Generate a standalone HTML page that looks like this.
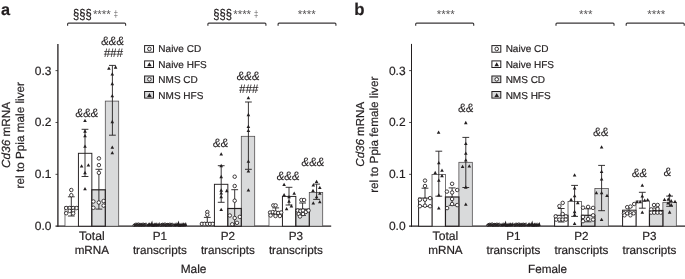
<!DOCTYPE html>
<html><head><meta charset="utf-8"><title>Cd36 mRNA</title>
<style>html,body{margin:0;padding:0;background:#fff}svg{display:block;will-change:transform}text{font-family:"Liberation Sans",sans-serif;text-rendering:geometricPrecision}.k{stroke:#231f20;stroke-width:0.2px}.ki{stroke:#231f20;stroke-width:0.1px}</style>
</head><body>
<svg width="685" height="279" viewBox="0 0 685 279"><rect width="685" height="279" fill="#fff"/>
<g font-family='"Liberation Sans", sans-serif'>
<text x="1.10" y="14.70" class="k" font-size="16.3" text-anchor="start" font-weight="bold" fill="#231f20">a</text>
<text x="354.20" y="14.60" class="k" font-size="16.8" text-anchor="start" font-weight="bold" fill="#231f20">b</text>
<path d="M57.90 43.9V226.85" stroke="#231f20" stroke-width="1.3" fill="none"/>
<path d="M55.50 226.20H331.20" stroke="#231f20" stroke-width="1.2" fill="none"/>
<text x="51.40" y="230.15" class="k" font-size="12" text-anchor="end" fill="#231f20">0.0</text>
<path d="M55.50 174.34H57.90" stroke="#231f20" stroke-width="0.8" fill="none"/>
<text x="51.40" y="178.29" class="k" font-size="12" text-anchor="end" fill="#231f20">0.1</text>
<path d="M55.50 122.48H57.90" stroke="#231f20" stroke-width="0.8" fill="none"/>
<text x="51.40" y="126.43" class="k" font-size="12" text-anchor="end" fill="#231f20">0.2</text>
<path d="M55.50 70.62H57.90" stroke="#231f20" stroke-width="0.8" fill="none"/>
<text x="51.40" y="74.57" class="k" font-size="12" text-anchor="end" fill="#231f20">0.3</text>
<text transform="translate(10.30 134.9) rotate(-90)" class="k" font-size="11.75" text-anchor="middle" fill="#231f20"><tspan font-style="italic">Cd36</tspan> mRNA</text>
<text transform="translate(24.00 135.2) rotate(-90)" class="k" font-size="11.75" text-anchor="middle" fill="#231f20">rel to Ppia male liver</text>
<text x="91.85" y="240.00" class="k" font-size="12.2" text-anchor="middle" fill="#231f20">Total</text>
<text x="91.85" y="254.00" class="k" font-size="11.7" text-anchor="middle" fill="#231f20">mRNA</text>
<text x="159.85" y="240.00" class="k" font-size="11.7" text-anchor="middle" fill="#231f20">P1</text>
<text x="159.85" y="254.00" class="k" font-size="11.7" text-anchor="middle" fill="#231f20">transcripts</text>
<text x="227.85" y="240.00" class="k" font-size="11.7" text-anchor="middle" fill="#231f20">P2</text>
<text x="227.85" y="254.00" class="k" font-size="11.7" text-anchor="middle" fill="#231f20">transcripts</text>
<text x="295.85" y="240.00" class="k" font-size="11.7" text-anchor="middle" fill="#231f20">P3</text>
<text x="295.85" y="254.00" class="k" font-size="11.7" text-anchor="middle" fill="#231f20">transcripts</text>
<text x="193.55" y="273.30" class="k" font-size="11.9" text-anchor="middle" fill="#231f20">Male</text>
<rect x="64.99" y="206.40" width="13.43" height="19.80" fill="#fff" stroke="#4a4748" stroke-width="0.75"/>
<rect x="105.28" y="101.10" width="13.43" height="125.10" fill="#d9dadb" stroke="#4a4748" stroke-width="0.75"/>
<rect x="78.42" y="153.30" width="13.43" height="72.90" fill="#fff" stroke="#231f20" stroke-width="0.95"/>
<rect x="91.85" y="189.80" width="13.43" height="36.40" fill="#d9dadb" stroke="#231f20" stroke-width="1.2"/>
<path d="M71.30 196.80V216.00M67.90 196.80H74.70M67.90 216.00H74.70" stroke="#231f20" stroke-width="0.9" fill="none"/>
<circle cx="71.30" cy="190.00" r="1.75" fill="#fff" stroke="#231f20" stroke-width="0.85"/>
<circle cx="71.30" cy="195.20" r="1.75" fill="#fff" stroke="#231f20" stroke-width="0.85"/>
<circle cx="66.20" cy="208.00" r="1.75" fill="#fff" stroke="#231f20" stroke-width="0.85"/>
<circle cx="69.70" cy="208.00" r="1.75" fill="#fff" stroke="#231f20" stroke-width="0.85"/>
<circle cx="73.20" cy="208.00" r="1.75" fill="#fff" stroke="#231f20" stroke-width="0.85"/>
<circle cx="76.60" cy="208.00" r="1.75" fill="#fff" stroke="#231f20" stroke-width="0.85"/>
<circle cx="69.70" cy="210.90" r="1.75" fill="#fff" stroke="#231f20" stroke-width="0.85"/>
<circle cx="73.20" cy="210.90" r="1.75" fill="#fff" stroke="#231f20" stroke-width="0.85"/>
<circle cx="66.20" cy="213.20" r="1.75" fill="#fff" stroke="#231f20" stroke-width="0.85"/>
<circle cx="73.20" cy="213.40" r="1.75" fill="#fff" stroke="#231f20" stroke-width="0.85"/>
<path d="M85.00 129.30V176.50M81.60 129.30H88.40M81.60 176.50H88.40" stroke="#231f20" stroke-width="0.9" fill="none"/>
<path d="M83.20 122.05L86.80 122.05L85.00 118.75Z" fill="#231f20"/>
<path d="M83.20 132.65L86.80 132.65L85.00 129.35Z" fill="#231f20"/>
<path d="M83.20 137.35L86.80 137.35L85.00 134.05Z" fill="#231f20"/>
<path d="M83.20 147.85L86.80 147.85L85.00 144.55Z" fill="#231f20"/>
<path d="M79.80 167.55L83.40 167.55L81.60 164.25Z" fill="#231f20"/>
<path d="M86.60 166.45L90.20 166.45L88.40 163.15Z" fill="#231f20"/>
<path d="M83.20 174.15L86.80 174.15L85.00 170.85Z" fill="#231f20"/>
<path d="M83.20 190.25L86.80 190.25L85.00 186.95Z" fill="#231f20"/>
<path d="M98.90 169.30V209.10M95.50 169.30H102.30M95.50 209.10H102.30" stroke="#231f20" stroke-width="0.9" fill="none"/>
<circle cx="98.90" cy="158.40" r="1.75" fill="#fff" stroke="#231f20" stroke-width="0.85"/>
<circle cx="98.90" cy="165.10" r="1.75" fill="#fff" stroke="#231f20" stroke-width="0.85"/>
<circle cx="98.90" cy="172.80" r="1.75" fill="#fff" stroke="#231f20" stroke-width="0.85"/>
<circle cx="93.40" cy="201.50" r="1.75" fill="#fff" stroke="#231f20" stroke-width="0.85"/>
<circle cx="98.80" cy="202.50" r="1.75" fill="#fff" stroke="#231f20" stroke-width="0.85"/>
<circle cx="103.60" cy="201.00" r="1.75" fill="#fff" stroke="#231f20" stroke-width="0.85"/>
<circle cx="103.60" cy="205.60" r="1.75" fill="#fff" stroke="#231f20" stroke-width="0.85"/>
<circle cx="93.40" cy="207.80" r="1.75" fill="#fff" stroke="#231f20" stroke-width="0.85"/>
<path d="M112.40 65.40V135.20M109.00 65.40H115.80M109.00 135.20H115.80" stroke="#231f20" stroke-width="0.9" fill="none"/>
<path d="M107.10 69.75L110.70 69.75L108.90 66.45Z" fill="#231f20"/>
<path d="M113.80 68.65L117.40 68.65L115.60 65.35Z" fill="#231f20"/>
<path d="M110.50 75.45L114.10 75.45L112.30 72.15Z" fill="#231f20"/>
<path d="M110.50 85.15L114.10 85.15L112.30 81.85Z" fill="#231f20"/>
<path d="M110.50 97.25L114.10 97.25L112.30 93.95Z" fill="#231f20"/>
<path d="M110.50 123.15L114.10 123.15L112.30 119.85Z" fill="#231f20"/>
<path d="M110.50 148.75L114.10 148.75L112.30 145.45Z" fill="#231f20"/>
<path d="M110.50 154.35L114.10 154.35L112.30 151.05Z" fill="#231f20"/>
<ellipse cx="134.59" cy="225.10" rx="1.75" ry="1.25" fill="#fff" fill-opacity="0.35" stroke="#231f20" stroke-width="0.85" transform="rotate(-20 134.59 225.10)"/>
<ellipse cx="135.79" cy="224.45" rx="1.75" ry="1.25" fill="#fff" fill-opacity="0.35" stroke="#231f20" stroke-width="0.85" transform="rotate(-20 135.79 224.45)"/>
<ellipse cx="137.00" cy="224.85" rx="1.75" ry="1.25" fill="#fff" fill-opacity="0.35" stroke="#231f20" stroke-width="0.85" transform="rotate(-20 137.00 224.85)"/>
<ellipse cx="138.20" cy="224.30" rx="1.75" ry="1.25" fill="#fff" fill-opacity="0.35" stroke="#231f20" stroke-width="0.85" transform="rotate(-20 138.20 224.30)"/>
<ellipse cx="139.40" cy="225.15" rx="1.75" ry="1.25" fill="#fff" fill-opacity="0.35" stroke="#231f20" stroke-width="0.85" transform="rotate(-20 139.40 225.15)"/>
<ellipse cx="140.61" cy="224.65" rx="1.75" ry="1.25" fill="#fff" fill-opacity="0.35" stroke="#231f20" stroke-width="0.85" transform="rotate(-20 140.61 224.65)"/>
<ellipse cx="141.81" cy="225.05" rx="1.75" ry="1.25" fill="#fff" fill-opacity="0.35" stroke="#231f20" stroke-width="0.85" transform="rotate(-20 141.81 225.05)"/>
<ellipse cx="143.01" cy="224.40" rx="1.75" ry="1.25" fill="#fff" fill-opacity="0.35" stroke="#231f20" stroke-width="0.85" transform="rotate(-20 143.01 224.40)"/>
<ellipse cx="144.22" cy="224.95" rx="1.75" ry="1.25" fill="#fff" fill-opacity="0.35" stroke="#231f20" stroke-width="0.85" transform="rotate(-20 144.22 224.95)"/>
<ellipse cx="145.42" cy="224.55" rx="1.75" ry="1.25" fill="#fff" fill-opacity="0.35" stroke="#231f20" stroke-width="0.85" transform="rotate(-20 145.42 224.55)"/>
<path d="M133.69 225.0H146.32" stroke="#231f20" stroke-width="1.6"/>
<path d="M146.32 226.60L149.72 226.60L148.52 222.50Z" fill="#231f20"/>
<path d="M147.52 225.95L150.92 225.95L149.72 222.35Z" fill="#231f20"/>
<path d="M148.73 226.35L152.13 226.35L150.93 222.75Z" fill="#231f20"/>
<path d="M149.93 225.80L153.33 225.80L152.13 220.40Z" fill="#231f20"/>
<path d="M151.13 226.65L154.53 226.65L153.33 223.05Z" fill="#231f20"/>
<path d="M152.34 226.15L155.74 226.15L154.54 222.55Z" fill="#231f20"/>
<path d="M153.54 226.55L156.94 226.55L155.74 222.45Z" fill="#231f20"/>
<path d="M154.74 225.90L158.14 225.90L156.94 222.30Z" fill="#231f20"/>
<path d="M155.95 226.45L159.35 226.45L158.15 222.85Z" fill="#231f20"/>
<path d="M157.15 226.05L160.55 226.05L159.35 221.95Z" fill="#231f20"/>
<path d="M147.12 225.0H159.75" stroke="#231f20" stroke-width="1.6"/>
<ellipse cx="161.15" cy="225.10" rx="1.75" ry="1.25" fill="#fff" fill-opacity="0.35" stroke="#231f20" stroke-width="0.85" transform="rotate(-20 161.15 225.10)"/>
<ellipse cx="162.35" cy="224.45" rx="1.75" ry="1.25" fill="#fff" fill-opacity="0.35" stroke="#231f20" stroke-width="0.85" transform="rotate(-20 162.35 224.45)"/>
<ellipse cx="163.56" cy="224.85" rx="1.75" ry="1.25" fill="#fff" fill-opacity="0.35" stroke="#231f20" stroke-width="0.85" transform="rotate(-20 163.56 224.85)"/>
<ellipse cx="164.76" cy="224.30" rx="1.75" ry="1.25" fill="#fff" fill-opacity="0.35" stroke="#231f20" stroke-width="0.85" transform="rotate(-20 164.76 224.30)"/>
<ellipse cx="165.96" cy="225.15" rx="1.75" ry="1.25" fill="#fff" fill-opacity="0.35" stroke="#231f20" stroke-width="0.85" transform="rotate(-20 165.96 225.15)"/>
<ellipse cx="167.17" cy="224.65" rx="1.75" ry="1.25" fill="#fff" fill-opacity="0.35" stroke="#231f20" stroke-width="0.85" transform="rotate(-20 167.17 224.65)"/>
<ellipse cx="168.37" cy="225.05" rx="1.75" ry="1.25" fill="#fff" fill-opacity="0.35" stroke="#231f20" stroke-width="0.85" transform="rotate(-20 168.37 225.05)"/>
<ellipse cx="169.57" cy="224.40" rx="1.75" ry="1.25" fill="#fff" fill-opacity="0.35" stroke="#231f20" stroke-width="0.85" transform="rotate(-20 169.57 224.40)"/>
<ellipse cx="170.78" cy="224.95" rx="1.75" ry="1.25" fill="#fff" fill-opacity="0.35" stroke="#231f20" stroke-width="0.85" transform="rotate(-20 170.78 224.95)"/>
<ellipse cx="171.98" cy="224.55" rx="1.75" ry="1.25" fill="#fff" fill-opacity="0.35" stroke="#231f20" stroke-width="0.85" transform="rotate(-20 171.98 224.55)"/>
<path d="M160.25 225.0H172.88" stroke="#231f20" stroke-width="1.6"/>
<path d="M172.88 226.60L176.28 226.60L175.08 222.50Z" fill="#231f20"/>
<path d="M174.08 225.95L177.48 225.95L176.28 222.35Z" fill="#231f20"/>
<path d="M175.29 226.35L178.69 226.35L177.49 222.75Z" fill="#231f20"/>
<path d="M176.49 225.80L179.89 225.80L178.69 220.40Z" fill="#231f20"/>
<path d="M177.69 226.65L181.09 226.65L179.89 223.05Z" fill="#231f20"/>
<path d="M178.90 226.15L182.30 226.15L181.10 222.55Z" fill="#231f20"/>
<path d="M180.10 226.55L183.50 226.55L182.30 222.45Z" fill="#231f20"/>
<path d="M181.30 225.90L184.70 225.90L183.50 222.30Z" fill="#231f20"/>
<path d="M182.51 226.45L185.91 226.45L184.71 222.85Z" fill="#231f20"/>
<path d="M183.71 226.05L187.11 226.05L185.91 221.95Z" fill="#231f20"/>
<path d="M173.68 225.0H186.31" stroke="#231f20" stroke-width="1.6"/>
<rect x="200.99" y="222.30" width="13.43" height="3.90" fill="#fff" stroke="#4a4748" stroke-width="0.75"/>
<rect x="241.28" y="136.30" width="13.43" height="89.90" fill="#d9dadb" stroke="#4a4748" stroke-width="0.75"/>
<rect x="214.42" y="184.30" width="13.43" height="41.90" fill="#fff" stroke="#231f20" stroke-width="0.95"/>
<rect x="227.85" y="208.50" width="13.43" height="17.70" fill="#d9dadb" stroke="#231f20" stroke-width="1.2"/>
<path d="M207.30 217.40V226.20M203.90 217.40H210.70" stroke="#231f20" stroke-width="0.9" fill="none"/>
<circle cx="207.30" cy="212.00" r="1.75" fill="#fff" stroke="#231f20" stroke-width="0.85"/>
<circle cx="207.30" cy="214.80" r="1.75" fill="#fff" stroke="#231f20" stroke-width="0.85"/>
<circle cx="201.90" cy="223.90" r="1.75" fill="#fff" stroke="#231f20" stroke-width="0.85"/>
<circle cx="204.60" cy="223.90" r="1.75" fill="#fff" stroke="#231f20" stroke-width="0.85"/>
<circle cx="207.30" cy="223.90" r="1.75" fill="#fff" stroke="#231f20" stroke-width="0.85"/>
<circle cx="210.00" cy="223.90" r="1.75" fill="#fff" stroke="#231f20" stroke-width="0.85"/>
<circle cx="212.70" cy="223.90" r="1.75" fill="#fff" stroke="#231f20" stroke-width="0.85"/>
<path d="M221.20 165.70V202.30M217.80 165.70H224.60M217.80 202.30H224.60" stroke="#231f20" stroke-width="0.9" fill="none"/>
<path d="M219.40 155.45L223.00 155.45L221.20 152.15Z" fill="#231f20"/>
<path d="M219.40 167.15L223.00 167.15L221.20 163.85Z" fill="#231f20"/>
<path d="M219.40 178.15L223.00 178.15L221.20 174.85Z" fill="#231f20"/>
<path d="M219.40 191.65L223.00 191.65L221.20 188.35Z" fill="#231f20"/>
<path d="M225.00 192.15L228.60 192.15L226.80 188.85Z" fill="#231f20"/>
<path d="M219.40 194.55L223.00 194.55L221.20 191.25Z" fill="#231f20"/>
<path d="M219.40 198.15L223.00 198.15L221.20 194.85Z" fill="#231f20"/>
<path d="M219.40 210.95L223.00 210.95L221.20 207.65Z" fill="#231f20"/>
<path d="M234.70 189.70V226.20M231.30 189.70H238.10" stroke="#231f20" stroke-width="0.9" fill="none"/>
<circle cx="234.70" cy="176.70" r="1.75" fill="#fff" stroke="#231f20" stroke-width="0.85"/>
<circle cx="234.70" cy="186.00" r="1.75" fill="#fff" stroke="#231f20" stroke-width="0.85"/>
<circle cx="234.70" cy="200.70" r="1.75" fill="#fff" stroke="#231f20" stroke-width="0.85"/>
<circle cx="229.80" cy="215.50" r="1.75" fill="#fff" stroke="#231f20" stroke-width="0.85"/>
<circle cx="234.70" cy="218.00" r="1.75" fill="#fff" stroke="#231f20" stroke-width="0.85"/>
<circle cx="239.80" cy="216.90" r="1.75" fill="#fff" stroke="#231f20" stroke-width="0.85"/>
<circle cx="237.00" cy="222.80" r="1.75" fill="#fff" stroke="#231f20" stroke-width="0.85"/>
<circle cx="232.20" cy="224.30" r="1.75" fill="#fff" stroke="#231f20" stroke-width="0.85"/>
<path d="M248.40 102.00V169.30M245.00 102.00H251.80M245.00 169.30H251.80" stroke="#231f20" stroke-width="0.9" fill="none"/>
<path d="M246.60 99.35L250.20 99.35L248.40 96.05Z" fill="#231f20"/>
<path d="M246.60 116.15L250.20 116.15L248.40 112.85Z" fill="#231f20"/>
<path d="M246.60 127.95L250.20 127.95L248.40 124.65Z" fill="#231f20"/>
<path d="M246.60 131.95L250.20 131.95L248.40 128.65Z" fill="#231f20"/>
<path d="M246.60 162.75L250.20 162.75L248.40 159.45Z" fill="#231f20"/>
<path d="M246.60 172.55L250.20 172.55L248.40 169.25Z" fill="#231f20"/>
<path d="M246.60 191.45L250.20 191.45L248.40 188.15Z" fill="#231f20"/>
<rect x="268.99" y="211.30" width="13.43" height="14.90" fill="#fff" stroke="#4a4748" stroke-width="0.75"/>
<rect x="309.28" y="192.40" width="13.43" height="33.80" fill="#d9dadb" stroke="#4a4748" stroke-width="0.75"/>
<rect x="282.42" y="196.40" width="13.43" height="29.80" fill="#fff" stroke="#231f20" stroke-width="0.95"/>
<rect x="295.85" y="209.20" width="13.43" height="17.00" fill="#d9dadb" stroke="#231f20" stroke-width="1.2"/>
<path d="M275.70 207.90V214.70M272.30 207.90H279.10M272.30 214.70H279.10" stroke="#231f20" stroke-width="0.9" fill="none"/>
<circle cx="273.30" cy="205.40" r="1.75" fill="#fff" stroke="#231f20" stroke-width="0.85"/>
<circle cx="275.60" cy="205.40" r="1.75" fill="#fff" stroke="#231f20" stroke-width="0.85"/>
<circle cx="270.10" cy="212.50" r="1.75" fill="#fff" stroke="#231f20" stroke-width="0.85"/>
<circle cx="272.80" cy="212.00" r="1.75" fill="#fff" stroke="#231f20" stroke-width="0.85"/>
<circle cx="275.50" cy="212.50" r="1.75" fill="#fff" stroke="#231f20" stroke-width="0.85"/>
<circle cx="278.20" cy="213.00" r="1.75" fill="#fff" stroke="#231f20" stroke-width="0.85"/>
<circle cx="281.20" cy="212.50" r="1.75" fill="#fff" stroke="#231f20" stroke-width="0.85"/>
<circle cx="270.60" cy="215.50" r="1.75" fill="#fff" stroke="#231f20" stroke-width="0.85"/>
<circle cx="275.50" cy="216.00" r="1.75" fill="#fff" stroke="#231f20" stroke-width="0.85"/>
<circle cx="279.90" cy="216.00" r="1.75" fill="#fff" stroke="#231f20" stroke-width="0.85"/>
<path d="M289.00 187.30V205.00M285.60 187.30H292.40M285.60 205.00H292.40" stroke="#231f20" stroke-width="0.9" fill="none"/>
<path d="M282.30 185.95L285.90 185.95L284.10 182.65Z" fill="#231f20"/>
<path d="M282.30 196.25L285.90 196.25L284.10 192.95Z" fill="#231f20"/>
<path d="M292.40 194.85L296.00 194.85L294.20 191.55Z" fill="#231f20"/>
<path d="M287.20 198.35L290.80 198.35L289.00 195.05Z" fill="#231f20"/>
<path d="M287.20 202.75L290.80 202.75L289.00 199.45Z" fill="#231f20"/>
<path d="M289.60 207.55L293.20 207.55L291.40 204.25Z" fill="#231f20"/>
<path d="M284.80 210.25L288.40 210.25L286.60 206.95Z" fill="#231f20"/>
<path d="M302.60 203.00V215.40M299.20 203.00H306.00M299.20 215.40H306.00" stroke="#231f20" stroke-width="0.9" fill="none"/>
<circle cx="301.40" cy="200.00" r="1.75" fill="#fff" stroke="#231f20" stroke-width="0.85"/>
<circle cx="304.10" cy="200.00" r="1.75" fill="#fff" stroke="#231f20" stroke-width="0.85"/>
<circle cx="297.70" cy="210.50" r="1.75" fill="#fff" stroke="#231f20" stroke-width="0.85"/>
<circle cx="300.40" cy="211.00" r="1.75" fill="#fff" stroke="#231f20" stroke-width="0.85"/>
<circle cx="303.00" cy="210.50" r="1.75" fill="#fff" stroke="#231f20" stroke-width="0.85"/>
<circle cx="305.80" cy="212.00" r="1.75" fill="#fff" stroke="#231f20" stroke-width="0.85"/>
<circle cx="308.50" cy="210.50" r="1.75" fill="#fff" stroke="#231f20" stroke-width="0.85"/>
<circle cx="298.70" cy="214.00" r="1.75" fill="#fff" stroke="#231f20" stroke-width="0.85"/>
<circle cx="303.00" cy="214.00" r="1.75" fill="#fff" stroke="#231f20" stroke-width="0.85"/>
<circle cx="300.00" cy="216.50" r="1.75" fill="#fff" stroke="#231f20" stroke-width="0.85"/>
<path d="M316.60 184.10V199.40M313.20 184.10H320.00M313.20 199.40H320.00" stroke="#231f20" stroke-width="0.9" fill="none"/>
<path d="M314.80 183.05L318.40 183.05L316.60 179.75Z" fill="#231f20"/>
<path d="M311.50 186.55L315.10 186.55L313.30 183.25Z" fill="#231f20"/>
<path d="M318.00 188.95L321.60 188.95L319.80 185.65Z" fill="#231f20"/>
<path d="M311.20 191.95L314.80 191.95L313.00 188.65Z" fill="#231f20"/>
<path d="M318.00 194.85L321.60 194.85L319.80 191.55Z" fill="#231f20"/>
<path d="M314.80 198.35L318.40 198.35L316.60 195.05Z" fill="#231f20"/>
<path d="M318.00 203.25L321.60 203.25L319.80 199.95Z" fill="#231f20"/>
<path d="M311.50 204.55L315.10 204.55L313.30 201.25Z" fill="#231f20"/>
<path d="M411.50 43.9V226.85" stroke="#231f20" stroke-width="1.05" fill="none"/>
<path d="M409.10 226.20H685.50" stroke="#231f20" stroke-width="1.2" fill="none"/>
<text x="405.60" y="230.15" class="k" font-size="12" text-anchor="end" fill="#231f20">0.0</text>
<path d="M409.10 174.34H411.50" stroke="#231f20" stroke-width="0.8" fill="none"/>
<text x="405.60" y="178.29" class="k" font-size="12" text-anchor="end" fill="#231f20">0.1</text>
<path d="M409.10 122.48H411.50" stroke="#231f20" stroke-width="0.8" fill="none"/>
<text x="405.60" y="126.43" class="k" font-size="12" text-anchor="end" fill="#231f20">0.2</text>
<path d="M409.10 70.62H411.50" stroke="#231f20" stroke-width="0.8" fill="none"/>
<text x="405.60" y="74.57" class="k" font-size="12" text-anchor="end" fill="#231f20">0.3</text>
<text transform="translate(363.90 134.3) rotate(-90)" class="k" font-size="11.55" text-anchor="middle" fill="#231f20"><tspan font-style="italic">Cd36</tspan> mRNA</text>
<text transform="translate(377.60 134.7) rotate(-90)" class="k" font-size="11.75" text-anchor="middle" fill="#231f20">rel to Ppia female liver</text>
<text x="445.45" y="240.00" class="k" font-size="12.2" text-anchor="middle" fill="#231f20">Total</text>
<text x="445.45" y="254.00" class="k" font-size="11.7" text-anchor="middle" fill="#231f20">mRNA</text>
<text x="513.45" y="240.00" class="k" font-size="11.7" text-anchor="middle" fill="#231f20">P1</text>
<text x="513.45" y="254.00" class="k" font-size="11.7" text-anchor="middle" fill="#231f20">transcripts</text>
<text x="581.45" y="240.00" class="k" font-size="11.7" text-anchor="middle" fill="#231f20">P2</text>
<text x="581.45" y="254.00" class="k" font-size="11.7" text-anchor="middle" fill="#231f20">transcripts</text>
<text x="649.45" y="240.00" class="k" font-size="11.7" text-anchor="middle" fill="#231f20">P3</text>
<text x="649.45" y="254.00" class="k" font-size="11.7" text-anchor="middle" fill="#231f20">transcripts</text>
<text x="547.50" y="273.30" class="k" font-size="11.7" text-anchor="middle" fill="#231f20">Female</text>
<rect x="432.02" y="174.40" width="13.43" height="51.80" fill="#fff" stroke="#4a4748" stroke-width="0.75"/>
<rect x="458.88" y="162.30" width="13.43" height="63.90" fill="#d9dadb" stroke="#4a4748" stroke-width="0.75"/>
<rect x="418.59" y="198.10" width="13.43" height="28.10" fill="#fff" stroke="#231f20" stroke-width="1.0"/>
<rect x="445.45" y="197.00" width="13.43" height="29.20" fill="#d9dadb" stroke="#231f20" stroke-width="1.2"/>
<path d="M425.00 188.20V206.40M421.60 188.20H428.40M421.60 206.40H428.40" stroke="#231f20" stroke-width="0.9" fill="none"/>
<circle cx="425.00" cy="180.60" r="1.75" fill="#fff" stroke="#231f20" stroke-width="0.85"/>
<circle cx="425.00" cy="186.00" r="1.75" fill="#fff" stroke="#231f20" stroke-width="0.85"/>
<circle cx="430.10" cy="198.10" r="1.75" fill="#fff" stroke="#231f20" stroke-width="0.85"/>
<circle cx="419.90" cy="199.70" r="1.75" fill="#fff" stroke="#231f20" stroke-width="0.85"/>
<circle cx="425.00" cy="199.70" r="1.75" fill="#fff" stroke="#231f20" stroke-width="0.85"/>
<circle cx="419.90" cy="206.20" r="1.75" fill="#fff" stroke="#231f20" stroke-width="0.85"/>
<circle cx="425.00" cy="205.70" r="1.75" fill="#fff" stroke="#231f20" stroke-width="0.85"/>
<circle cx="430.10" cy="206.20" r="1.75" fill="#fff" stroke="#231f20" stroke-width="0.85"/>
<path d="M438.80 151.20V196.20M435.40 151.20H442.20M435.40 196.20H442.20" stroke="#231f20" stroke-width="0.9" fill="none"/>
<path d="M436.80 133.75L440.40 133.75L438.60 130.45Z" fill="#231f20"/>
<path d="M437.00 164.25L440.60 164.25L438.80 160.95Z" fill="#231f20"/>
<path d="M440.20 171.75L443.80 171.75L442.00 168.45Z" fill="#231f20"/>
<path d="M433.40 174.15L437.00 174.15L435.20 170.85Z" fill="#231f20"/>
<path d="M440.20 177.15L443.80 177.15L442.00 173.85Z" fill="#231f20"/>
<path d="M437.00 181.75L440.60 181.75L438.80 178.45Z" fill="#231f20"/>
<path d="M437.00 196.55L440.60 196.55L438.80 193.25Z" fill="#231f20"/>
<path d="M437.00 209.45L440.60 209.45L438.80 206.15Z" fill="#231f20"/>
<path d="M452.10 187.90V205.30M448.70 187.90H455.50M448.70 205.30H455.50" stroke="#231f20" stroke-width="0.9" fill="none"/>
<circle cx="452.10" cy="183.80" r="1.75" fill="#fff" stroke="#231f20" stroke-width="0.85"/>
<circle cx="457.20" cy="190.00" r="1.75" fill="#fff" stroke="#231f20" stroke-width="0.85"/>
<circle cx="446.90" cy="191.60" r="1.75" fill="#fff" stroke="#231f20" stroke-width="0.85"/>
<circle cx="452.10" cy="192.50" r="1.75" fill="#fff" stroke="#231f20" stroke-width="0.85"/>
<circle cx="452.10" cy="199.00" r="1.75" fill="#fff" stroke="#231f20" stroke-width="0.85"/>
<circle cx="452.10" cy="204.10" r="1.75" fill="#fff" stroke="#231f20" stroke-width="0.85"/>
<circle cx="457.20" cy="205.10" r="1.75" fill="#fff" stroke="#231f20" stroke-width="0.85"/>
<circle cx="447.10" cy="208.10" r="1.75" fill="#fff" stroke="#231f20" stroke-width="0.85"/>
<path d="M465.80 137.40V187.50M462.40 137.40H469.20M462.40 187.50H469.20" stroke="#231f20" stroke-width="0.9" fill="none"/>
<path d="M464.00 124.15L467.60 124.15L465.80 120.85Z" fill="#231f20"/>
<path d="M464.00 145.05L467.60 145.05L465.80 141.75Z" fill="#231f20"/>
<path d="M464.00 154.75L467.60 154.75L465.80 151.45Z" fill="#231f20"/>
<path d="M464.00 161.55L467.60 161.55L465.80 158.25Z" fill="#231f20"/>
<path d="M460.80 167.95L464.40 167.95L462.60 164.65Z" fill="#231f20"/>
<path d="M467.50 167.45L471.10 167.45L469.30 164.15Z" fill="#231f20"/>
<path d="M464.00 188.65L467.60 188.65L465.80 185.35Z" fill="#231f20"/>
<path d="M464.00 205.75L467.60 205.75L465.80 202.45Z" fill="#231f20"/>
<ellipse cx="488.19" cy="225.10" rx="1.75" ry="1.25" fill="#fff" fill-opacity="0.35" stroke="#231f20" stroke-width="0.85" transform="rotate(-20 488.19 225.10)"/>
<ellipse cx="489.39" cy="224.45" rx="1.75" ry="1.25" fill="#fff" fill-opacity="0.35" stroke="#231f20" stroke-width="0.85" transform="rotate(-20 489.39 224.45)"/>
<ellipse cx="490.60" cy="224.85" rx="1.75" ry="1.25" fill="#fff" fill-opacity="0.35" stroke="#231f20" stroke-width="0.85" transform="rotate(-20 490.60 224.85)"/>
<ellipse cx="491.80" cy="224.30" rx="1.75" ry="1.25" fill="#fff" fill-opacity="0.35" stroke="#231f20" stroke-width="0.85" transform="rotate(-20 491.80 224.30)"/>
<ellipse cx="493.00" cy="225.15" rx="1.75" ry="1.25" fill="#fff" fill-opacity="0.35" stroke="#231f20" stroke-width="0.85" transform="rotate(-20 493.00 225.15)"/>
<ellipse cx="494.21" cy="224.65" rx="1.75" ry="1.25" fill="#fff" fill-opacity="0.35" stroke="#231f20" stroke-width="0.85" transform="rotate(-20 494.21 224.65)"/>
<ellipse cx="495.41" cy="225.05" rx="1.75" ry="1.25" fill="#fff" fill-opacity="0.35" stroke="#231f20" stroke-width="0.85" transform="rotate(-20 495.41 225.05)"/>
<ellipse cx="496.61" cy="224.40" rx="1.75" ry="1.25" fill="#fff" fill-opacity="0.35" stroke="#231f20" stroke-width="0.85" transform="rotate(-20 496.61 224.40)"/>
<ellipse cx="497.82" cy="224.95" rx="1.75" ry="1.25" fill="#fff" fill-opacity="0.35" stroke="#231f20" stroke-width="0.85" transform="rotate(-20 497.82 224.95)"/>
<ellipse cx="499.02" cy="224.55" rx="1.75" ry="1.25" fill="#fff" fill-opacity="0.35" stroke="#231f20" stroke-width="0.85" transform="rotate(-20 499.02 224.55)"/>
<path d="M487.29 225.0H499.92" stroke="#231f20" stroke-width="1.6"/>
<path d="M499.92 226.60L503.32 226.60L502.12 222.50Z" fill="#231f20"/>
<path d="M501.12 225.95L504.52 225.95L503.32 222.35Z" fill="#231f20"/>
<path d="M502.33 226.35L505.73 226.35L504.53 222.75Z" fill="#231f20"/>
<path d="M503.53 225.80L506.93 225.80L505.73 220.40Z" fill="#231f20"/>
<path d="M504.73 226.65L508.13 226.65L506.93 223.05Z" fill="#231f20"/>
<path d="M505.94 226.15L509.34 226.15L508.14 222.55Z" fill="#231f20"/>
<path d="M507.14 226.55L510.54 226.55L509.34 222.45Z" fill="#231f20"/>
<path d="M508.34 225.90L511.74 225.90L510.54 222.30Z" fill="#231f20"/>
<path d="M509.55 226.45L512.95 226.45L511.75 222.85Z" fill="#231f20"/>
<path d="M510.75 226.05L514.15 226.05L512.95 221.95Z" fill="#231f20"/>
<path d="M500.72 225.0H513.35" stroke="#231f20" stroke-width="1.6"/>
<ellipse cx="514.75" cy="225.10" rx="1.75" ry="1.25" fill="#fff" fill-opacity="0.35" stroke="#231f20" stroke-width="0.85" transform="rotate(-20 514.75 225.10)"/>
<ellipse cx="515.95" cy="224.45" rx="1.75" ry="1.25" fill="#fff" fill-opacity="0.35" stroke="#231f20" stroke-width="0.85" transform="rotate(-20 515.95 224.45)"/>
<ellipse cx="517.16" cy="224.85" rx="1.75" ry="1.25" fill="#fff" fill-opacity="0.35" stroke="#231f20" stroke-width="0.85" transform="rotate(-20 517.16 224.85)"/>
<ellipse cx="518.36" cy="224.30" rx="1.75" ry="1.25" fill="#fff" fill-opacity="0.35" stroke="#231f20" stroke-width="0.85" transform="rotate(-20 518.36 224.30)"/>
<ellipse cx="519.56" cy="225.15" rx="1.75" ry="1.25" fill="#fff" fill-opacity="0.35" stroke="#231f20" stroke-width="0.85" transform="rotate(-20 519.56 225.15)"/>
<ellipse cx="520.77" cy="224.65" rx="1.75" ry="1.25" fill="#fff" fill-opacity="0.35" stroke="#231f20" stroke-width="0.85" transform="rotate(-20 520.77 224.65)"/>
<ellipse cx="521.97" cy="225.05" rx="1.75" ry="1.25" fill="#fff" fill-opacity="0.35" stroke="#231f20" stroke-width="0.85" transform="rotate(-20 521.97 225.05)"/>
<ellipse cx="523.17" cy="224.40" rx="1.75" ry="1.25" fill="#fff" fill-opacity="0.35" stroke="#231f20" stroke-width="0.85" transform="rotate(-20 523.17 224.40)"/>
<ellipse cx="524.38" cy="224.95" rx="1.75" ry="1.25" fill="#fff" fill-opacity="0.35" stroke="#231f20" stroke-width="0.85" transform="rotate(-20 524.38 224.95)"/>
<ellipse cx="525.58" cy="224.55" rx="1.75" ry="1.25" fill="#fff" fill-opacity="0.35" stroke="#231f20" stroke-width="0.85" transform="rotate(-20 525.58 224.55)"/>
<path d="M513.85 225.0H526.48" stroke="#231f20" stroke-width="1.6"/>
<path d="M526.48 226.60L529.88 226.60L528.68 222.50Z" fill="#231f20"/>
<path d="M527.68 225.95L531.08 225.95L529.88 222.35Z" fill="#231f20"/>
<path d="M528.89 226.35L532.29 226.35L531.09 222.75Z" fill="#231f20"/>
<path d="M530.09 225.80L533.49 225.80L532.29 220.40Z" fill="#231f20"/>
<path d="M531.29 226.65L534.69 226.65L533.49 223.05Z" fill="#231f20"/>
<path d="M532.50 226.15L535.90 226.15L534.70 222.55Z" fill="#231f20"/>
<path d="M533.70 226.55L537.10 226.55L535.90 222.45Z" fill="#231f20"/>
<path d="M534.90 225.90L538.30 225.90L537.10 222.30Z" fill="#231f20"/>
<path d="M536.11 226.45L539.51 226.45L538.31 222.85Z" fill="#231f20"/>
<path d="M537.31 226.05L540.71 226.05L539.51 221.95Z" fill="#231f20"/>
<path d="M527.28 225.0H539.91" stroke="#231f20" stroke-width="1.6"/>
<rect x="568.02" y="201.50" width="13.43" height="24.70" fill="#fff" stroke="#4a4748" stroke-width="0.75"/>
<rect x="594.88" y="188.40" width="13.43" height="37.80" fill="#d9dadb" stroke="#4a4748" stroke-width="0.75"/>
<rect x="554.59" y="215.30" width="13.43" height="10.90" fill="#fff" stroke="#231f20" stroke-width="1.0"/>
<rect x="581.45" y="215.30" width="13.43" height="10.90" fill="#d9dadb" stroke="#231f20" stroke-width="1.2"/>
<path d="M561.20 208.50V222.00M557.80 208.50H564.60M557.80 222.00H564.60" stroke="#231f20" stroke-width="0.9" fill="none"/>
<circle cx="562.70" cy="202.90" r="1.75" fill="#fff" stroke="#231f20" stroke-width="0.85"/>
<circle cx="559.40" cy="206.10" r="1.75" fill="#fff" stroke="#231f20" stroke-width="0.85"/>
<circle cx="562.70" cy="214.00" r="1.75" fill="#fff" stroke="#231f20" stroke-width="0.85"/>
<circle cx="555.70" cy="216.40" r="1.75" fill="#fff" stroke="#231f20" stroke-width="0.85"/>
<circle cx="565.90" cy="216.40" r="1.75" fill="#fff" stroke="#231f20" stroke-width="0.85"/>
<circle cx="556.20" cy="219.60" r="1.75" fill="#fff" stroke="#231f20" stroke-width="0.85"/>
<circle cx="559.40" cy="219.60" r="1.75" fill="#fff" stroke="#231f20" stroke-width="0.85"/>
<circle cx="562.70" cy="219.60" r="1.75" fill="#fff" stroke="#231f20" stroke-width="0.85"/>
<circle cx="565.90" cy="219.60" r="1.75" fill="#fff" stroke="#231f20" stroke-width="0.85"/>
<path d="M574.60 185.40V216.40M571.20 185.40H578.00M571.20 216.40H578.00" stroke="#231f20" stroke-width="0.9" fill="none"/>
<path d="M572.80 176.55L576.40 176.55L574.60 173.25Z" fill="#231f20"/>
<path d="M572.80 189.45L576.40 189.45L574.60 186.15Z" fill="#231f20"/>
<path d="M572.80 197.35L576.40 197.35L574.60 194.05Z" fill="#231f20"/>
<path d="M569.30 201.05L572.90 201.05L571.10 197.75Z" fill="#231f20"/>
<path d="M576.00 204.15L579.60 204.15L577.80 200.85Z" fill="#231f20"/>
<path d="M572.80 213.15L576.40 213.15L574.60 209.85Z" fill="#231f20"/>
<path d="M572.80 216.35L576.40 216.35L574.60 213.05Z" fill="#231f20"/>
<path d="M572.80 225.05L576.40 225.05L574.60 221.75Z" fill="#231f20"/>
<path d="M588.10 208.80V221.80M584.70 208.80H591.50M584.70 221.80H591.50" stroke="#231f20" stroke-width="0.9" fill="none"/>
<circle cx="583.00" cy="207.70" r="1.75" fill="#fff" stroke="#231f20" stroke-width="0.85"/>
<circle cx="588.10" cy="206.90" r="1.75" fill="#fff" stroke="#231f20" stroke-width="0.85"/>
<circle cx="593.10" cy="207.90" r="1.75" fill="#fff" stroke="#231f20" stroke-width="0.85"/>
<circle cx="593.10" cy="215.30" r="1.75" fill="#fff" stroke="#231f20" stroke-width="0.85"/>
<circle cx="583.00" cy="216.90" r="1.75" fill="#fff" stroke="#231f20" stroke-width="0.85"/>
<circle cx="588.10" cy="219.10" r="1.75" fill="#fff" stroke="#231f20" stroke-width="0.85"/>
<circle cx="593.10" cy="219.60" r="1.75" fill="#fff" stroke="#231f20" stroke-width="0.85"/>
<circle cx="583.00" cy="221.20" r="1.75" fill="#fff" stroke="#231f20" stroke-width="0.85"/>
<path d="M601.60 165.40V210.70M598.20 165.40H605.00M598.20 210.70H605.00" stroke="#231f20" stroke-width="0.9" fill="none"/>
<path d="M599.80 148.45L603.40 148.45L601.60 145.15Z" fill="#231f20"/>
<path d="M599.80 173.05L603.40 173.05L601.60 169.75Z" fill="#231f20"/>
<path d="M599.80 180.55L603.40 180.55L601.60 177.25Z" fill="#231f20"/>
<path d="M594.60 194.35L598.20 194.35L596.40 191.05Z" fill="#231f20"/>
<path d="M599.80 194.35L603.40 194.35L601.60 191.05Z" fill="#231f20"/>
<path d="M605.20 197.05L608.80 197.05L607.00 193.75Z" fill="#231f20"/>
<path d="M599.80 221.05L603.40 221.05L601.60 217.75Z" fill="#231f20"/>
<rect x="636.02" y="201.00" width="13.43" height="25.20" fill="#fff" stroke="#4a4748" stroke-width="0.75"/>
<rect x="662.88" y="202.30" width="13.43" height="23.90" fill="#d9dadb" stroke="#4a4748" stroke-width="0.75"/>
<rect x="622.59" y="210.20" width="13.43" height="16.00" fill="#fff" stroke="#231f20" stroke-width="1.0"/>
<rect x="649.45" y="210.50" width="13.43" height="15.70" fill="#d9dadb" stroke="#231f20" stroke-width="1.2"/>
<path d="M629.00 207.00V213.50M625.60 207.00H632.40M625.60 213.50H632.40" stroke="#231f20" stroke-width="0.9" fill="none"/>
<circle cx="634.20" cy="204.00" r="1.75" fill="#fff" stroke="#231f20" stroke-width="0.85"/>
<circle cx="627.20" cy="207.20" r="1.75" fill="#fff" stroke="#231f20" stroke-width="0.85"/>
<circle cx="630.40" cy="206.60" r="1.75" fill="#fff" stroke="#231f20" stroke-width="0.85"/>
<circle cx="624.00" cy="213.30" r="1.75" fill="#fff" stroke="#231f20" stroke-width="0.85"/>
<circle cx="627.20" cy="213.30" r="1.75" fill="#fff" stroke="#231f20" stroke-width="0.85"/>
<circle cx="630.40" cy="213.30" r="1.75" fill="#fff" stroke="#231f20" stroke-width="0.85"/>
<circle cx="633.70" cy="213.30" r="1.75" fill="#fff" stroke="#231f20" stroke-width="0.85"/>
<circle cx="624.50" cy="215.30" r="1.75" fill="#fff" stroke="#231f20" stroke-width="0.85"/>
<circle cx="630.40" cy="215.30" r="1.75" fill="#fff" stroke="#231f20" stroke-width="0.85"/>
<path d="M642.30 192.30V208.20M638.90 192.30H645.70M638.90 208.20H645.70" stroke="#231f20" stroke-width="0.9" fill="none"/>
<path d="M640.50 186.75L644.10 186.75L642.30 183.45Z" fill="#231f20"/>
<path d="M640.50 197.45L644.10 197.45L642.30 194.15Z" fill="#231f20"/>
<path d="M645.90 201.25L649.50 201.25L647.70 197.95Z" fill="#231f20"/>
<path d="M642.90 201.75L646.50 201.75L644.70 198.45Z" fill="#231f20"/>
<path d="M635.30 203.35L638.90 203.35L637.10 200.05Z" fill="#231f20"/>
<path d="M638.40 203.35L642.00 203.35L640.20 200.05Z" fill="#231f20"/>
<path d="M640.50 213.85L644.10 213.85L642.30 210.55Z" fill="#231f20"/>
<path d="M656.00 208.00V213.20M652.60 208.00H659.40M652.60 213.20H659.40" stroke="#231f20" stroke-width="0.9" fill="none"/>
<circle cx="654.00" cy="205.00" r="1.75" fill="#fff" stroke="#231f20" stroke-width="0.85"/>
<circle cx="657.70" cy="205.00" r="1.75" fill="#fff" stroke="#231f20" stroke-width="0.85"/>
<circle cx="651.20" cy="209.40" r="1.75" fill="#fff" stroke="#231f20" stroke-width="0.85"/>
<circle cx="657.50" cy="209.00" r="1.75" fill="#fff" stroke="#231f20" stroke-width="0.85"/>
<circle cx="651.20" cy="212.70" r="1.75" fill="#fff" stroke="#231f20" stroke-width="0.85"/>
<circle cx="654.20" cy="212.70" r="1.75" fill="#fff" stroke="#231f20" stroke-width="0.85"/>
<circle cx="657.50" cy="212.70" r="1.75" fill="#fff" stroke="#231f20" stroke-width="0.85"/>
<circle cx="660.70" cy="212.70" r="1.75" fill="#fff" stroke="#231f20" stroke-width="0.85"/>
<path d="M669.60 196.10V206.30M666.20 196.10H673.00M666.20 206.30H673.00" stroke="#231f20" stroke-width="0.9" fill="none"/>
<path d="M667.80 196.35L671.40 196.35L669.60 193.05Z" fill="#231f20"/>
<path d="M662.70 201.05L666.30 201.05L664.50 197.75Z" fill="#231f20"/>
<path d="M666.50 200.65L670.10 200.65L668.30 197.35Z" fill="#231f20"/>
<path d="M669.40 202.35L673.00 202.35L671.20 199.05Z" fill="#231f20"/>
<path d="M673.20 203.05L676.80 203.05L675.00 199.75Z" fill="#231f20"/>
<path d="M666.20 204.45L669.80 204.45L668.00 201.15Z" fill="#231f20"/>
<path d="M669.40 206.35L673.00 206.35L671.20 203.05Z" fill="#231f20"/>
<path d="M667.80 213.65L671.40 213.65L669.60 210.35Z" fill="#231f20"/>
<rect x="144.60" y="45.60" width="8.9" height="6.6" fill="#fff" stroke="#231f20" stroke-width="1"/>
<circle cx="149.40" cy="48.95" r="1.8" fill="#fff" stroke="#231f20" stroke-width="0.9"/>
<text x="158.35" y="52.30" class="k" font-size="10" text-anchor="start" fill="#231f20">Naive CD</text>
<rect x="144.60" y="60.90" width="8.9" height="6.6" fill="#fff" stroke="#231f20" stroke-width="1"/>
<path d="M147.10 66.35L151.70 66.35L149.40 62.35Z" fill="#231f20"/>
<text x="158.35" y="67.60" class="k" font-size="10" text-anchor="start" fill="#231f20">Naive HFS</text>
<rect x="144.60" y="76.00" width="8.9" height="6.6" fill="#d9dadb" stroke="#231f20" stroke-width="1"/>
<circle cx="149.40" cy="79.35" r="1.8" fill="#fff" stroke="#231f20" stroke-width="0.9"/>
<text x="158.35" y="83.30" class="k" font-size="10" text-anchor="start" fill="#231f20">NMS CD</text>
<rect x="144.60" y="91.50" width="8.9" height="6.6" fill="#d9dadb" stroke="#231f20" stroke-width="1"/>
<path d="M147.10 96.95L151.70 96.95L149.40 92.95Z" fill="#231f20"/>
<text x="158.35" y="98.50" class="k" font-size="10" text-anchor="start" fill="#231f20">NMS HFS</text>
<rect x="491.90" y="45.60" width="8.9" height="6.6" fill="#fff" stroke="#231f20" stroke-width="1"/>
<circle cx="496.70" cy="48.95" r="1.8" fill="#fff" stroke="#231f20" stroke-width="0.9"/>
<text x="505.65" y="52.30" class="k" font-size="10" text-anchor="start" fill="#231f20">Naive CD</text>
<rect x="491.90" y="60.90" width="8.9" height="6.6" fill="#fff" stroke="#231f20" stroke-width="1"/>
<path d="M494.40 66.35L499.00 66.35L496.70 62.35Z" fill="#231f20"/>
<text x="505.65" y="67.60" class="k" font-size="10" text-anchor="start" fill="#231f20">Naive HFS</text>
<rect x="491.90" y="76.00" width="8.9" height="6.6" fill="#d9dadb" stroke="#231f20" stroke-width="1"/>
<circle cx="496.70" cy="79.35" r="1.8" fill="#fff" stroke="#231f20" stroke-width="0.9"/>
<text x="505.65" y="83.30" class="k" font-size="10" text-anchor="start" fill="#231f20">NMS CD</text>
<rect x="491.90" y="91.50" width="8.9" height="6.6" fill="#d9dadb" stroke="#231f20" stroke-width="1"/>
<path d="M494.40 96.95L499.00 96.95L496.70 92.95Z" fill="#231f20"/>
<text x="505.65" y="98.50" class="k" font-size="10" text-anchor="start" fill="#231f20">NMS HFS</text>
<path d="M67.60 25.70V24.10Q67.60 23.10 68.60 23.10H124.60Q125.60 23.10 125.60 24.10V25.70" fill="none" stroke="#3a3738" stroke-width="1.15"/>
<text transform="translate(73.00 19.1) scale(0.97 1.22)" x="0" y="0" class="k" font-size="11.5" fill="#231f20">§§§</text>
<text x="92.90" y="17.80" font-size="11.5" text-anchor="start" fill="#555354">****</text>
<text transform="translate(113.80 17.1) scale(0.95 1.15)" x="0" y="0" font-size="8" fill="#6a6869">‡</text>
<path d="M207.90 25.70V24.10Q207.90 23.10 208.90 23.10H264.90Q265.90 23.10 265.90 24.10V25.70" fill="none" stroke="#3a3738" stroke-width="1.15"/>
<text transform="translate(213.30 19.1) scale(0.97 1.22)" x="0" y="0" class="k" font-size="11.5" fill="#231f20">§§§</text>
<text x="233.20" y="17.80" font-size="11.5" text-anchor="start" fill="#555354">****</text>
<text transform="translate(254.10 17.1) scale(0.95 1.15)" x="0" y="0" font-size="8" fill="#6a6869">‡</text>
<path d="M278.10 25.70V24.10Q278.10 23.10 279.10 23.10H334.90Q335.90 23.10 335.90 24.10V25.70" fill="none" stroke="#3a3738" stroke-width="1.15"/>
<text x="306.70" y="17.80" font-size="11.5" text-anchor="middle" fill="#555354">****</text>
<path d="M415.70 25.70V24.10Q415.70 23.10 416.70 23.10H472.70Q473.70 23.10 473.70 24.10V25.70" fill="none" stroke="#3a3738" stroke-width="1.15"/>
<text x="445.80" y="17.80" font-size="11.5" text-anchor="middle" fill="#555354">****</text>
<path d="M556.00 25.70V24.10Q556.00 23.10 557.00 23.10H613.00Q614.00 23.10 614.00 24.10V25.70" fill="none" stroke="#3a3738" stroke-width="1.15"/>
<text x="585.80" y="17.80" font-size="11.5" text-anchor="middle" fill="#555354">***</text>
<path d="M626.20 25.70V24.10Q626.20 23.10 627.20 23.10H683.20Q684.20 23.10 684.20 24.10V25.70" fill="none" stroke="#3a3738" stroke-width="1.15"/>
<text x="656.20" y="17.80" font-size="11.5" text-anchor="middle" fill="#555354">****</text>
<text transform="translate(112.70 44.80) scale(0.94 1)" class="ki" font-size="12.25" text-anchor="middle" font-style="italic" fill="#231f20">&amp;&amp;&amp;</text>
<text transform="translate(113.30 57.00) scale(0.94 1)" class="ki" font-size="12.25" text-anchor="middle" font-style="italic" fill="#231f20">###</text>
<text transform="translate(87.00 116.80) scale(0.94 1)" class="ki" font-size="12.25" text-anchor="middle" font-style="italic" fill="#231f20">&amp;&amp;&amp;</text>
<text transform="translate(248.20 80.00) scale(0.94 1)" class="ki" font-size="12.25" text-anchor="middle" font-style="italic" fill="#231f20">&amp;&amp;&amp;</text>
<text transform="translate(248.60 92.80) scale(0.94 1)" class="ki" font-size="12.25" text-anchor="middle" font-style="italic" fill="#231f20">###</text>
<text transform="translate(220.70 146.80) scale(0.94 1)" class="ki" font-size="12.25" text-anchor="middle" font-style="italic" fill="#231f20">&amp;&amp;</text>
<text transform="translate(288.20 179.80) scale(0.94 1)" class="ki" font-size="12.25" text-anchor="middle" font-style="italic" fill="#231f20">&amp;&amp;&amp;</text>
<text transform="translate(313.00 166.30) scale(0.94 1)" class="ki" font-size="12.25" text-anchor="middle" font-style="italic" fill="#231f20">&amp;&amp;&amp;</text>
<text transform="translate(466.00 112.10) scale(0.94 1)" class="ki" font-size="12.25" text-anchor="middle" font-style="italic" fill="#231f20">&amp;&amp;</text>
<text transform="translate(600.90 135.70) scale(0.94 1)" class="ki" font-size="12.25" text-anchor="middle" font-style="italic" fill="#231f20">&amp;&amp;</text>
<text transform="translate(639.60 176.70) scale(0.94 1)" class="ki" font-size="12.25" text-anchor="middle" font-style="italic" fill="#231f20">&amp;&amp;</text>
<text transform="translate(667.70 175.70) scale(0.94 1)" class="ki" font-size="12.25" text-anchor="middle" font-style="italic" fill="#231f20">&amp;</text>
</g></svg>
</body></html>
